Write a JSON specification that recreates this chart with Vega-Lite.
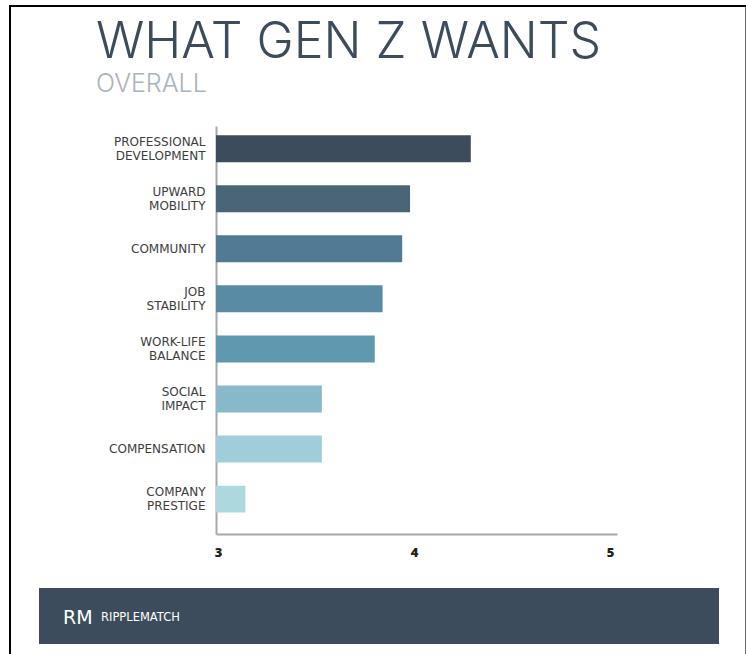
{
  "$schema": "https://vega.github.io/schema/vega-lite/v6.json",
  "padding": {"left": 9, "top": 5, "right": 0, "bottom": 0},
  "background": "#ffffff",
  "config": {"view": {"stroke": null}},
  "spacing": 0,
  "align": "none",
  "vconcat": [
    {
      "width": 737,
      "height": 2,
      "view": {"fill": "#000000"},
      "data": {"values": [{"edge": "top"}]},
      "mark": {"type": "rect", "opacity": 0},
      "encoding": {}
    },
    {
      "spacing": 0,
      "align": "none",
      "hconcat": [
        {
          "width": 2,
          "height": 647,
          "view": {"fill": "#000000"},
          "data": {"values": [{"edge": "left"}]},
          "mark": {"type": "rect", "opacity": 0},
          "encoding": {}
        },
        {
          "width": 28,
          "height": 647,
          "data": {"values": [{"edge": "gap"}]},
          "mark": {"type": "rect", "opacity": 0},
          "encoding": {}
        },
        {
          "spacing": 0,
          "align": "none",
          "vconcat": [
            {
              "width": 680,
              "height": 11,
              "data": {"values": [{"edge": "gap"}]},
              "mark": {"type": "rect", "opacity": 0},
              "encoding": {}
            },
            {
              "spacing": 0,
              "bounds": "flush",
              "hconcat": [
                {
                  "width": 177,
                  "height": 408,
                  "data": {"values": [{"edge": "gap"}]},
                  "mark": {"type": "rect", "opacity": 0},
                  "encoding": {}
                },
                {
                  "width": 401,
                  "height": 408,
                  "title": {
                    "text": "WHAT GEN Z WANTS",
                    "subtitle": "OVERALL",
                    "anchor": "start",
                    "frame": "bounds",
                    "font": "Inter",
                    "fontSize": 50,
                    "fontWeight": 300,
                    "color": "#3c4c5c",
                    "subtitleFont": "Inter",
                    "subtitleFontSize": 25,
                    "subtitleFontWeight": 300,
                    "subtitleColor": "#a9b3bc",
                    "subtitlePadding": 4,
                    "dx": 57,
                    "offset": 29
                  },
                  "data": {
                    "values": [
                      {"want": "PROFESSIONAL DEVELOPMENT", "score": 4.3},
                      {"want": "UPWARD MOBILITY", "score": 3.99},
                      {"want": "COMMUNITY", "score": 3.95},
                      {"want": "JOB STABILITY", "score": 3.85},
                      {"want": "WORK-LIFE BALANCE", "score": 3.81},
                      {"want": "SOCIAL IMPACT", "score": 3.54},
                      {"want": "COMPENSATION", "score": 3.54},
                      {"want": "COMPANY PRESTIGE", "score": 3.15}
                    ]
                  },
                  "mark": {"type": "bar", "clip": true},
                  "encoding": {
                    "y": {
                      "field": "want",
                      "type": "nominal",
                      "sort": null,
                      "title": null,
                      "scale": {"paddingInner": 0.461, "paddingOuter": 0.305, "align": 0.3},
                      "axis": {
                        "domainColor": "#a8a8a8",
                        "domainWidth": 2,
                        "ticks": false,
                        "labelPadding": 11,
                        "labelFont": "DejaVu Sans",
                        "labelFontSize": 12,
                        "labelColor": "#3d3d3d",
                        "labelLineHeight": 14,
                        "labelExpr": "split(datum.label, ' ')",
                        "labelLimit": 0,
                        "minExtent": 177,
                        "maxExtent": 177,
                        "labelOffset": {
                          "condition": {"test": "length(split(datum.value, ' ')) > 1", "value": -7},
                          "value": 0
                        }
                      }
                    },
                    "x": {
                      "field": "score",
                      "type": "quantitative",
                      "title": null,
                      "scale": {"domain": [3, 5.046], "nice": false, "zero": false},
                      "axis": {
                        "values": [3, 4, 5],
                        "format": ".0f",
                        "domainColor": "#a8a8a8",
                        "domainWidth": 2,
                        "ticks": false,
                        "grid": false,
                        "labelOverlap": false,
                        "labelBound": false,
                        "labelFlush": false,
                        "labelOffset": 2,
                        "labelPadding": 12,
                        "labelFont": "Open Sans",
                        "labelFontSize": 13,
                        "labelFontWeight": 800,
                        "labelColor": "#222222"
                      }
                    },
                    "color": {
                      "field": "want",
                      "type": "nominal",
                      "sort": null,
                      "legend": null,
                      "scale": {
                        "range": ["#3c4c5c", "#4a6478", "#527a94", "#5a8ba5", "#6098b0", "#87b9cb", "#9fcdd9", "#aed8df"]
                      }
                    }
                  }
                }
              ]
            },
            {
              "width": 680,
              "height": 29,
              "data": {"values": [{"edge": "gap"}]},
              "mark": {"type": "rect", "opacity": 0},
              "encoding": {}
            },
            {
              "width": 680,
              "height": 56,
              "view": {"fill": "#3c4c5c"},
              "data": {
                "values": [
                  {"brand": "RM", "pos": 24, "mid": 0.47, "size": "logo"},
                  {"brand": "RIPPLEMATCH", "pos": 62, "mid": 0.47, "size": "name"}
                ]
              },
              "mark": {"type": "text", "align": "left", "baseline": "middle", "font": "DejaVu Sans", "color": "#ffffff"},
              "encoding": {
                "text": {"field": "brand", "type": "nominal"},
                "x": {"field": "pos", "type": "quantitative", "scale": {"domain": [0, 680], "nice": false}, "axis": null},
                "y": {"field": "mid", "type": "quantitative", "scale": {"domain": [0, 1]}, "axis": null},
                "size": {"field": "size", "type": "nominal", "legend": null, "scale": {"domain": ["logo", "name"], "range": [19, 11.5]}}
              }
            }
          ]
        },
        {
          "width": 26,
          "height": 647,
          "data": {"values": [{"edge": "gap"}]},
          "mark": {"type": "rect", "opacity": 0},
          "encoding": {}
        },
        {
          "width": 1,
          "height": 647,
          "view": {"fill": "#666666"},
          "data": {"values": [{"edge": "right"}]},
          "mark": {"type": "rect", "opacity": 0},
          "encoding": {}
        }
      ]
    }
  ]
}
